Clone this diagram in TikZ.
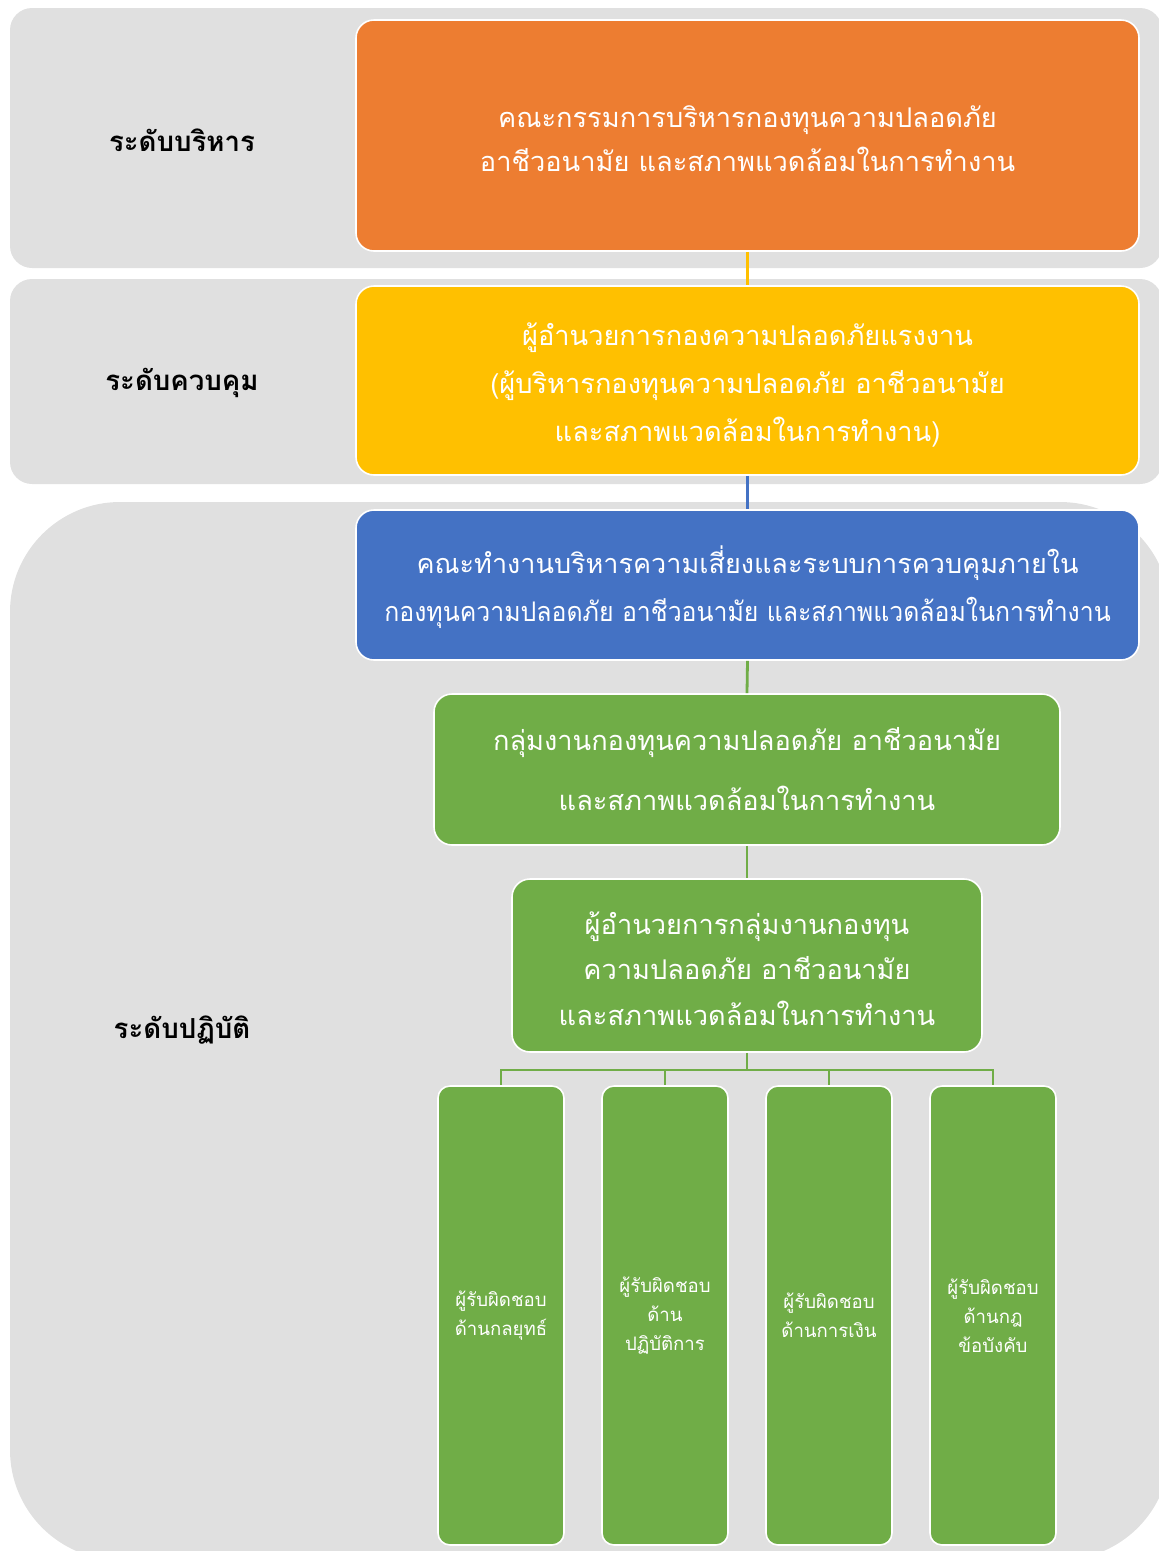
\documentclass[tikz,border=0pt]{standalone}
\usepackage{fontspec}
\newfontfamily\thai[Script=Thai]{Loma}
\newfontfamily\thaicond[Script=Thai, FakeStretch=0.92]{Loma}
\definecolor{band}{HTML}{E0E0E0}
\definecolor{org}{HTML}{ED7D31}
\definecolor{yel}{HTML}{FFC000}
\definecolor{blu}{HTML}{4472C4}
\definecolor{grn}{HTML}{70AD47}
\tikzset{
  box/.style={draw=white, line width=1.6pt, rounded corners=18pt, inner sep=0pt},
  txt/.style={text=white, align=center, inner sep=0pt, font=\thai\fontsize{27.2}{44}\selectfont},
  smallbox/.style={box, rounded corners=12pt, minimum width=126pt, minimum height=459pt, text=white, align=center, font=\thai\fontsize{18.6}{29}\selectfont},
  lvl/.style={font=\thai\bfseries\fontsize{27.6}{30}\selectfont, text=black},
  conn/.style={line width=2.8pt}
}
\begin{document}
\begin{tikzpicture}[x=1pt,y=-1pt]
\useasboundingbox (0,0) rectangle (1159,1551);
\fill[band, rounded corners=22pt] (10,8) rectangle (1162,268);
\fill[band, rounded corners=22pt] (10,279) rectangle (1162,484);
\fill[band, rounded corners=110pt] (10,502) rectangle (1170,1560);
\node[lvl] (l1) at (182,140) {ระดับบริหาร};
\node[lvl] (l2) at (182,383) {ระดับควบคุม};
\node[lvl] (l3) at (182,1030) {ระดับปฏิบัติ};
% boxes
\node[box, fill=org, minimum width=783pt, minimum height=231pt] (o) at (747.5,135.5) {};
\node[box, fill=yel, minimum width=783pt, minimum height=189pt] (y) at (747.5,380.5) {};
\node[box, fill=blu, minimum width=783pt, minimum height=150pt] (b) at (747.5,585) {};
\node[box, fill=grn, minimum width=626pt, minimum height=151pt] (g1) at (747,769.5) {};
\node[box, fill=grn, minimum width=470pt, minimum height=173pt] (g2) at (747,965.5) {};
% texts
\node[txt] (ot) at ([yshift=-3.5pt]o.center) {คณะกรรมการบริหารกองทุนความปลอดภัย\\อาชีวอนามัย และสภาพแวดล้อมในการทำงาน};
\node[txt, font=\thai\fontsize{27.2}{48}\selectfont] (yt) at ([yshift=-4.5pt]y.center) {ผู้อำนวยการกองความปลอดภัยแรงงาน\\(ผู้บริหารกองทุนความปลอดภัย อาชีวอนามัย\\และสภาพแวดล้อมในการทำงาน)};
\node[txt, font=\thai\fontsize{27}{48}\selectfont] (bt) at ([yshift=-2.5pt]b.center) {คณะทำงานบริหารความเสี่ยงและระบบการควบคุมภายใน\\{\thaicond กองทุนความปลอดภัย อาชีวอนามัย และสภาพแวดล้อมในการทำงาน}};
\node[txt, font=\thai\fontsize{27.2}{60}\selectfont] (g1t) at (g1.center) {กลุ่มงานกองทุนความปลอดภัย อาชีวอนามัย\\และสภาพแวดล้อมในการทำงาน};
\node[txt, font=\thai\fontsize{27.2}{45.5}\selectfont] (g2t) at ([yshift=-3pt]g2.center) {ผู้อำนวยการกลุ่มงานกองทุน\\ความปลอดภัย อาชีวอนามัย\\และสภาพแวดล้อมในการทำงาน};
\node[smallbox, fill=grn] (s1) at (501,1315.5) {ผู้รับผิดชอบ\\ด้านกลยุทธ์};
\node[smallbox, fill=grn] (s2) at (665,1315.5) {ผู้รับผิดชอบ\\ด้าน\\ปฏิบัติการ};
\node[smallbox, fill=grn] (s3) at (829,1315.5) {ผู้รับผิดชอบ\\ด้านการเงิน};
\node[smallbox, fill=grn] (s4) at (993,1315.5) {ผู้รับผิดชอบ\\ด้านกฎ\\ข้อบังคับ};
\draw[conn, yel] (o.south) -- (y.north);
\draw[conn, blu] (y.south) -- (b.north);
\draw[conn, grn] (b.south) -- (g1.north);
\draw[conn, grn] (g1.south) -- (g2.north);
\coordinate (bus) at (747,1070);
\draw[conn, grn] (g2.south) -- (bus);
\draw[conn, grn] (bus) -| (s1.north);
\draw[conn, grn] (bus) -| (s2.north);
\draw[conn, grn] (bus) -| (s3.north);
\draw[conn, grn] (bus) -| (s4.north);
\end{tikzpicture}
\end{document}
